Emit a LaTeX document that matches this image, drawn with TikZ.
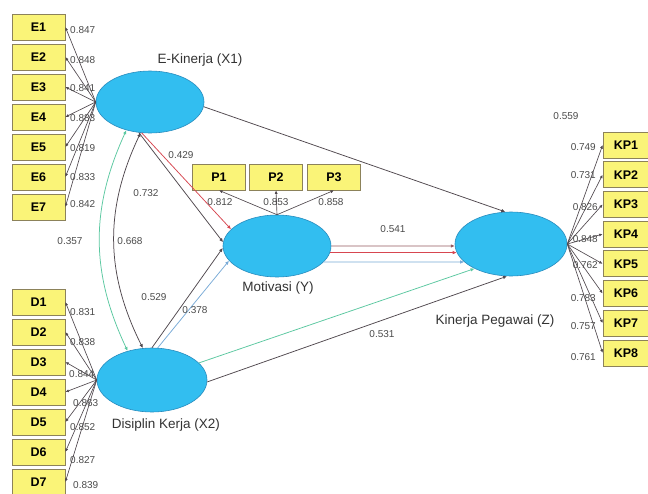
\documentclass[tikz,border=0pt]{standalone}
\usepackage{fontspec}
\setmainfont{Liberation Sans}
\usetikzlibrary{shapes.geometric,arrows.meta}
\definecolor{latfill}{RGB}{50,190,240}
\definecolor{latline}{RGB}{40,140,190}
\definecolor{boxfill}{RGB}{250,244,120}
\definecolor{boxline}{RGB}{140,130,90}
\definecolor{numcol}{RGB}{75,75,75}
\definecolor{pathred}{RGB}{215,70,80}
\definecolor{pathgreen}{RGB}{90,200,160}
\definecolor{pathblue}{RGB}{120,170,215}
\definecolor{pathdark}{RGB}{80,72,78}
\definecolor{pathbrown}{RGB}{150,90,95}
\begin{document}
\begin{tikzpicture}[x=1pt,y=-1pt,
  lat/.style={ellipse, draw=latline, fill=latfill, inner sep=0pt, line width=0.6pt},
  ind/.style={rectangle, draw=boxline, fill=boxfill, minimum width=53pt, minimum height=26pt, inner sep=0pt, font=\fontsize{12.5}{14}\selectfont\bfseries, line width=0.7pt},
  load/.style={draw=pathdark, line width=0.65pt, -{Latex[length=3.5pt,width=3pt]}},
  num/.style={font=\fontsize{10}{11}\selectfont, text=numcol, inner sep=0pt},
  lbl/.style={font=\fontsize{13.5}{15}\selectfont, text=black!80, inner sep=0pt},
  pth/.style={line width=0.75pt, -{Latex[length=4pt,width=3.5pt]}},
  corr/.style={line width=0.75pt, {Latex[length=4pt,width=3.5pt]}-{Latex[length=4pt,width=3.5pt]}}
]
\useasboundingbox (0,0) rectangle (648,493);
\fill[white] (0,0) rectangle (648,493);

% latent variables
\node[lat, minimum width=108pt, minimum height=62pt] (X1) at (150,102) {};
\node[lat, minimum width=110pt, minimum height=64pt] (X2) at (152,380) {};
\node[lat, minimum width=108pt, minimum height=62pt] (Y) at (277,246) {};
\node[lat, minimum width=112pt, minimum height=64pt] (Z) at (511,244) {};

% indicators
\foreach \i in {1,...,7} \node[ind] (E\i) at (38.5,{27+30*(\i-1)}) {E\i};
\foreach \i in {1,...,7} \node[ind] (D\i) at (38.5,{302+30*(\i-1)}) {D\i};
\foreach \i in {1,...,8} \node[ind, minimum width=46pt] (KP\i) at (626,{145+29.7*(\i-1)}) {KP\i};
\node[ind] (P1) at (219,177) {P1};
\node[ind] (P2) at (276,177) {P2};
\node[ind] (P3) at (334,177) {P3};

% loadings
\foreach \i in {1,...,7} \draw[load] (X1.west) -- (E\i.east);
\foreach \i in {1,...,7} \draw[load] (X2.west) -- (D\i.east);
\foreach \i in {1,...,8} \draw[load] (Z.east) -- (KP\i.west);
\foreach \i in {1,2,3} \draw[load] (Y.north) -- (P\i.south);

% structural paths
\draw[pth, draw=pathdark] (X1.-5) -- (Z.100);
\draw[pth, draw=pathred] (X1.255) -- (Y.160);
\draw[pth, draw=pathdark] (X1.250) -- (Y.176);
\draw[corr, draw=pathdark] (X1.253) to[bend right=26] (X2.106);
\draw[corr, draw=pathgreen] (X1.230) to[bend right=25] (X2.130);
\draw[pth, draw=pathdark] (X2.90) -- (Y.182);
\draw[pth, draw=pathblue] (X2.80) -- (Y.197);
\draw[pth, draw=pathbrown] (Y.0) -- (Z.182);
\draw[pth, draw=pathred] (Y.-7.6) -- (Z.189.5);
\draw[pth, draw=pathblue] (Y.-19) -- (Z.201);
\draw[pth, draw=pathgreen] (X2.20) -- (Z.214);
\draw[pth, draw=pathdark] (X2.-2) -- (Z.263);

% loading labels
\node[num, anchor=west] at (70,30) {0.847};
\node[num, anchor=west] at (70,60) {0.848};
\node[num, anchor=west] at (70,88) {0.841};
\node[num, anchor=west] at (70,118) {0.883};
\node[num, anchor=west] at (70,148) {0.819};
\node[num, anchor=west] at (70,177) {0.833};
\node[num, anchor=west] at (70,204) {0.842};
\node[num, anchor=west] at (70,312) {0.831};
\node[num, anchor=west] at (70,342) {0.838};
\node[num, anchor=west] at (69,374) {0.844};
\node[num, anchor=west] at (73,403) {0.863};
\node[num, anchor=west] at (70,427) {0.852};
\node[num, anchor=west] at (70,460) {0.827};
\node[num, anchor=west] at (73,485) {0.839};
\node[num, anchor=east] at (596,147) {0.749};
\node[num, anchor=east] at (596,175) {0.731};
\node[num, anchor=east] at (598,207) {0.826};
\node[num, anchor=east] at (598,239) {0.848};
\node[num, anchor=east] at (598,265) {0.762};
\node[num, anchor=east] at (596,298) {0.783};
\node[num, anchor=east] at (596,326) {0.757};
\node[num, anchor=east] at (596,357) {0.761};
\node[num] at (220,202) {0.812};
\node[num] at (276,202) {0.853};
\node[num] at (331,202) {0.858};

% path labels
\node[num] at (566,116) {0.559};
\node[num] at (181,155) {0.429};
\node[num] at (146,193) {0.732};
\node[num] at (70,241) {0.357};
\node[num] at (130,241) {0.668};
\node[num] at (393,229) {0.541};
\node[num] at (154,297) {0.529};
\node[num] at (195,310) {0.378};
\node[num] at (382,334) {0.531};

% latent labels
\node[lbl] at (200,60) {E-Kinerja (X1)};
\node[lbl] at (278,288) {Motivasi (Y)};
\node[lbl] at (166,425) {Disiplin Kerja (X2)};
\node[lbl] at (495,321) {Kinerja Pegawai (Z)};
\end{tikzpicture}
\end{document}
